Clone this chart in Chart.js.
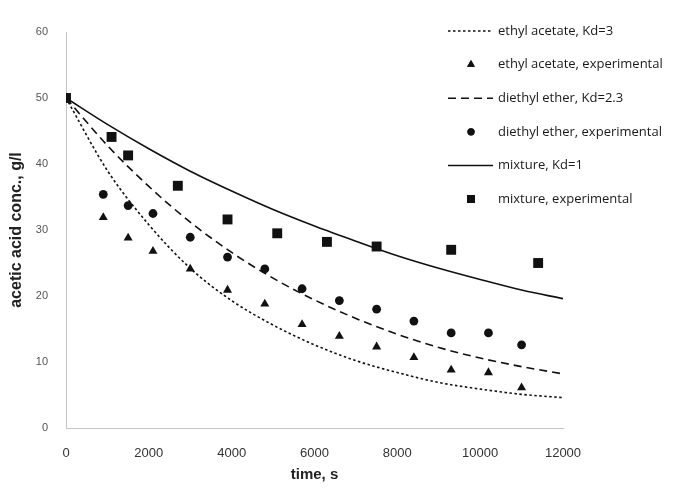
<!DOCTYPE html>
<html>
  <head>
    <title>Acetic acid extraction</title>
    <style>
      html, body { margin: 0; padding: 0; background: #fff; }
      #wrap { width: 696px; height: 489px; }
    </style>
  </head>
  <body>
    <script src="https://cdn.jsdelivr.net/npm/chart.js@4.4.1/dist/chart.umd.min.js"></script>

    <div id="wrap"><canvas id="extractionChart" width="696" height="489"></canvas></div>

    <script>
      // Model curves (every 1000 s)
      const modelTimes = [0, 1000, 2000, 3000, 4000, 5000, 6000, 7000, 8000, 9000, 10000, 11000, 12000];
      const ethylAcetateModel = [50, 39, 30.8, 24.2, 19.3, 15.6, 12.6, 10.2, 8.4, 6.9, 5.9, 5.1, 4.6];
      const diethylEtherModel = [50, 42.8, 36.6, 31.2, 26.6, 22.7, 19.4, 16.6, 14.2, 12.2, 10.6, 9.3, 8.2];
      const mixtureModel = [50, 46, 42.3, 38.9, 35.9, 33.1, 30.6, 28.3, 26.1, 24.2, 22.5, 20.9, 19.6];

      // Experimental points
      const solventTimes = [0, 900, 1500, 2100, 3000, 3900, 4800, 5700, 6600, 7500, 8400, 9300, 10200, 11000];
      const ethylAcetateExp = [50, 31.9, 28.8, 26.8, 24.1, 20.9, 18.8, 15.7, 13.9, 12.3, 10.7, 8.8, 8.4, 6.1];
      const diethylEtherExp = [50, 35.4, 33.7, 32.5, 28.9, 25.9, 24.1, 21.1, 19.3, 18.0, 16.2, 14.4, 14.4, 12.6];
      const mixtureTimes = [0, 1100, 1500, 2700, 3900, 5100, 6300, 7500, 9300, 11400];
      const mixtureExp = [50, 44.1, 41.3, 36.7, 31.6, 29.5, 28.2, 27.5, 27.0, 25.0];

      const labels = [
        "ethyl acetate, Kd=3",
        "ethyl acetate, experimental",
        "diethyl ether, Kd=2.3",
        "diethyl ether, experimental",
        "mixture, Kd=1",
        "mixture, experimental"
      ];

      const ink = "#111";

      // Turn two arrays into {x, y} points
      function pts(xs, ys) {
        return xs.map((x, i) => ({ x: x, y: ys[i] }));
      }

      function curve(label, ys, dash) {
        return {
          label: label,
          data: pts(modelTimes, ys),
          showLine: true,
          borderColor: ink,
          borderWidth: 1.6,
          borderDash: dash,
          pointRadius: 0,
          cubicInterpolationMode: "monotone",
          fill: false
        };
      }

      function markers(label, xs, ys, style, radius, legendRadius) {
        return {
          label: label,
          data: pts(xs, ys),
          showLine: false,
          pointStyle: style,
          pointRadius: radius,
          legendRadius: legendRadius,
          pointBackgroundColor: ink,
          pointBorderColor: ink,
          pointBorderWidth: 0
        };
      }

      // Legend drawn on top of the plot, like the original
      const overlayLegend = {
        id: "overlayLegend",
        afterDraw(chart) {
          const ctx = chart.ctx;
          const top = 31, step = 33.6;
          ctx.save();
          ctx.font = "13px 'Open Sans'";
          ctx.textBaseline = "middle";
          chart.data.datasets.forEach((ds, i) => {
            const y = top + i * step;
            if (ds.showLine) {
              ctx.strokeStyle = ink;
              ctx.lineWidth = 1.5;
              ctx.setLineDash(ds.borderDash || []);
              ctx.beginPath();
              ctx.moveTo(448, y);
              ctx.lineTo(493, y);
              ctx.stroke();
              ctx.setLineDash([]);
            } else {
              ctx.fillStyle = ink;
              Chart.helpers.drawPoint(ctx, { pointStyle: ds.pointStyle, radius: ds.legendRadius, borderWidth: 0 }, 471, y);
              ctx.fill();
            }
            ctx.fillStyle = "#1a1a1a";
            ctx.fillText(ds.label, 498, y);
          });
          ctx.restore();
        }
      };

      const ctx = document.getElementById("extractionChart").getContext("2d");

      const chart = new Chart(ctx, {
        type: "scatter",
        data: {
          datasets: [
            curve(labels[0], ethylAcetateModel, [2.5, 2.5]),
            markers(labels[1], solventTimes, ethylAcetateExp, "triangle", 5.2, 4.5),
            curve(labels[2], diethylEtherModel, [8, 5]),
            markers(labels[3], solventTimes, diethylEtherExp, "circle", 4.4, 3.6),
            curve(labels[4], mixtureModel, []),
            markers(labels[5], mixtureTimes, mixtureExp, "rect", 7, 5.6)
          ]
        },
        options: {
          responsive: false,
          animation: false,
          layout: { padding: { top: 32, right: 133, left: 0, bottom: 0 } },
          plugins: {
            legend: { display: false },
            tooltip: { enabled: false }
          },
          scales: {
            x: {
              type: "linear",
              min: 0,
              max: 12000,
              afterFit: (s) => { s.height = 61; },
              grid: { display: false, drawTicks: false },
              border: { display: true, color: "#c4c4c4", width: 1 },
              ticks: {
                stepSize: 2000,
                padding: 18,
                color: "#333",
                font: { family: "'Liberation Sans', Arial", size: 13 },
                maxRotation: 0,
                callback: (v) => String(v)
              },
              title: {
                display: true,
                text: "time, s",
                color: "#222",
                font: { family: "'Liberation Sans', Arial", size: 15, weight: "bold" },
                padding: { top: 0, bottom: 5 }
              }
            },
            y: {
              min: 0,
              max: 60,
              afterFit: (s) => { s.width = 66; },
              grid: { display: false, drawTicks: false },
              border: { display: true, color: "#c4c4c4", width: 1 },
              ticks: {
                stepSize: 10,
                padding: 18,
                color: "#555",
                font: { family: "'Liberation Sans', Arial", size: 11 },
                callback: (v) => String(v)
              },
              title: {
                display: true,
                text: "acetic acid conc., g/l",
                color: "#222",
                font: { family: "'Liberation Sans', Arial", size: 16, weight: "bold" },
                padding: { top: 7, bottom: 0 }
              }
            }
          }
        },
        plugins: [overlayLegend]
      });
    </script>
  </body>
</html>
